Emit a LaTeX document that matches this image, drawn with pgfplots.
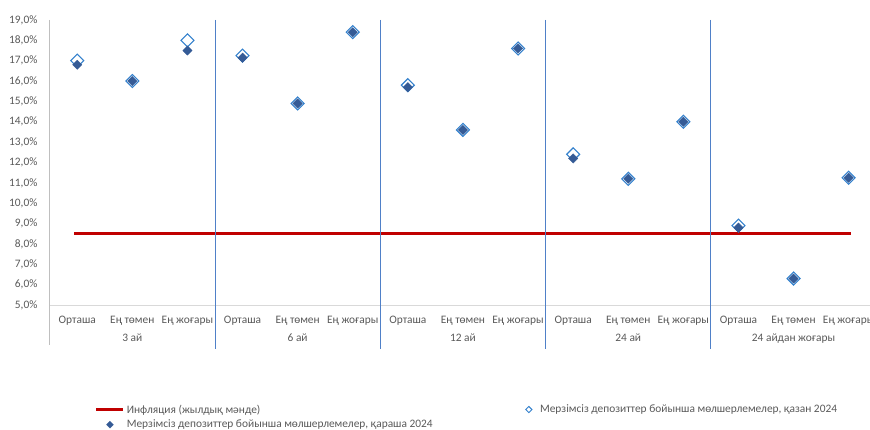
\documentclass[border=0pt]{standalone}
\usepackage{fontspec}
\setmainfont{Carlito}
\usepackage{pgfplots}
\pgfplotsset{compat=1.18}

\definecolor{txtgray}{HTML}{595959}
\definecolor{axgray}{HTML}{D9D9D9}
\definecolor{leftgray}{HTML}{BFBFBF}
\definecolor{sepblue}{HTML}{4F80C8}
\definecolor{infred}{HTML}{C00000}
\definecolor{octblue}{HTML}{3380CC}
\definecolor{novblue}{HTML}{355B96}

\newcommand{\lblfont}{\fontsize{11.4}{13}\selectfont}

\pgfplotsset{
  linelegend/.style={legend image code/.code={\draw[##1] (0pt,0pt) -- (27pt,0pt);}},
  octlegend/.style={legend image code/.code={\path (0pt,0pt) (16pt,0pt);
      \draw[##1, mark size=2.2pt, mark options={rotate=45, draw=octblue, line width=0.9pt}] plot coordinates {(7pt,0pt)};}},
  novlegend/.style={legend image code/.code={\path (0pt,0pt) (27pt,0pt);
      \draw[##1, mark size=2.4pt] plot coordinates {(13.5pt,0pt)};}},
}

\begin{document}
\begin{tikzpicture}
\useasboundingbox (0,0) rectangle (870pt,430pt);
\begin{axis}[
    at={(49.7pt,125pt)}, anchor=south west,
    scale only axis,
    width=826.5pt, height=285pt,
    xmin=-0.5, xmax=14.5,
    ymin=5, ymax=19,
    ytick distance=1,
    xtick={0,...,14},
    xticklabels={Орташа,Ең төмен,Ең жоғары,Орташа,Ең төмен,Ең жоғары,Орташа,Ең төмен,Ең жоғары,Орташа,Ең төмен,Ең жоғары,Орташа,Ең төмен,Ең жоғары},
    axis x line*=bottom, axis y line*=left,
    x axis line style={draw=axgray, line width=0.8pt},
    y axis line style={draw=none},
    major tick length=0pt,
    tick label style={font=\lblfont, text=txtgray},
    /pgf/number format/assume math mode=true,
    yticklabel={\pgfmathprintnumber[fixed,fixed zerofill,precision=1,use comma]{\tick}\%},
    yticklabel style={anchor=east, inner sep=0pt, xshift=-12pt},
    xticklabel style={anchor=base, inner sep=0pt, yshift=-18.5pt},
    clip=false,
    legend columns=2,
    legend cell align=left,
    legend style={draw=none, fill=none, inner sep=0pt,
        at={(axis description cs:0.0548,-0.342)}, anchor=north west,
        font=\lblfont, text=txtgray, row sep=1.5pt,
        /tikz/every even column/.append style={column sep=87pt}},
  ]
  % inflation (annual)
  \addplot[draw=infred, line width=2.6pt, mark=none, linelegend]
    coordinates {(-0.05,8.5) (14.05,8.5)};
  \addlegendentry{Инфляция (жылдық мәнде)}

  % October 2024 (hollow)
  \addplot[only marks, mark=square, mark size=4.6pt,
    mark options={rotate=45, draw=octblue, line width=1.1pt}, octlegend]
    coordinates {
      (0,17.0) (1,16.0) (2,18.0)
      (3,17.25) (4,14.9) (5,18.4)
      (6,15.8) (7,13.6) (8,17.6)
      (9,12.4) (10,11.2) (11,14.0)
      (12,8.9) (13,6.3) (14,11.25)
    };
  \addlegendentry{Мерзімсіз депозиттер бойынша мөлшерлемелер, қазан 2024}

  % November 2024 (filled)
  \addplot[only marks, mark=square*, mark size=3.3pt,
    mark options={rotate=45, draw=novblue, fill=novblue, line width=0.4pt}, novlegend]
    coordinates {
      (0,16.8) (1,16.0) (2,17.5)
      (3,17.15) (4,14.9) (5,18.4)
      (6,15.7) (7,13.6) (8,17.6)
      (9,12.2) (10,11.2) (11,14.0)
      (12,8.8) (13,6.3) (14,11.25)
    };
  \addlegendentry{Мерзімсіз депозиттер бойынша мөлшерлемелер, қараша 2024}

  % group separators and left frame
  \draw[leftgray, line width=0.8pt] (axis cs:-0.5,19) -- ([yshift=-40pt]axis cs:-0.5,5);
  \draw[sepblue, line width=0.9pt] (axis cs:2.5,19) -- ([yshift=-44pt]axis cs:2.5,5);
  \draw[sepblue, line width=0.9pt] (axis cs:5.5,19) -- ([yshift=-44pt]axis cs:5.5,5);
  \draw[sepblue, line width=0.9pt] (axis cs:8.5,19) -- ([yshift=-44pt]axis cs:8.5,5);
  \draw[sepblue, line width=0.9pt] (axis cs:11.5,19) -- ([yshift=-44pt]axis cs:11.5,5);

  % group labels
  \node[font=\lblfont, text=txtgray, anchor=base, inner sep=0pt] at ([yshift=-37pt]axis cs:1,5) {3 ай};
  \node[font=\lblfont, text=txtgray, anchor=base, inner sep=0pt] at ([yshift=-37pt]axis cs:4,5) {6 ай};
  \node[font=\lblfont, text=txtgray, anchor=base, inner sep=0pt] at ([yshift=-37pt]axis cs:7,5) {12 ай};
  \node[font=\lblfont, text=txtgray, anchor=base, inner sep=0pt] at ([yshift=-37pt]axis cs:10,5) {24 ай};
  \node[font=\lblfont, text=txtgray, anchor=base, inner sep=0pt] at ([yshift=-37pt]axis cs:13,5) {24 айдан жоғары};
\end{axis}
\end{tikzpicture}
\end{document}
